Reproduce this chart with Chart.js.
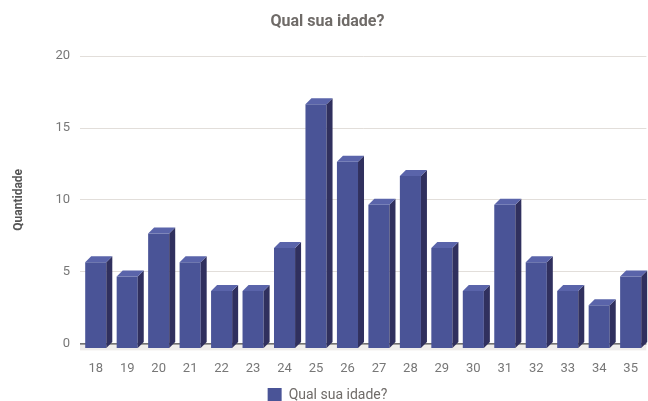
<!DOCTYPE html>
<html>
<head>
<meta charset="utf-8">
<script src="https://cdn.jsdelivr.net/npm/chart.js@4.4.0/dist/chart.umd.min.js"></script>
<style>
  html, body { margin: 0; padding: 0; background: #fff; }
  #wrap { width: 648px; height: 401px; }
</style>
</head>
<body>
<div id="wrap"><canvas id="chart"></canvas></div>
<script>
// Qual sua idade? - respostas por idade
const idades = ['18', '19', '20', '21', '22', '23', '24', '25', '26', '27', '28', '29', '30', '31', '32', '33', '34', '35'];
const quantidades = [6, 5, 8, 6, 4, 4, 7, 17, 13, 10, 12, 7, 4, 10, 6, 4, 3, 5];
const yTicks = [0, 5, 10, 15, 20];

const FRONT = '#4a5497';
const SIDE = '#30305e';
const TOP = '#5a64aa';
const DEPTH = 6;
const DROP = 5;

// desenha o chao, a lateral e o topo de cada barra (efeito 3D)
const bars3d = {
  id: 'bars3d',
  beforeDatasetsDraw(chart) {
    const { ctx, chartArea, scales } = chart;
    const y0 = scales.y.getPixelForValue(0);
    ctx.save();
    ctx.fillStyle = '#efedeb';
    ctx.fillRect(chartArea.left, y0, chartArea.right - chartArea.left, DROP + 2);
    ctx.strokeStyle = '#222';
    ctx.lineWidth = 1;
    ctx.beginPath();
    ctx.moveTo(chartArea.left, y0 + 0.5);
    ctx.lineTo(chartArea.right, y0 + 0.5);
    ctx.stroke();
    ctx.restore();
    ctx.save();
    ctx.translate(0, DROP);
  },
  afterDatasetsDraw(chart) {
    const { ctx } = chart;
    const meta = chart.getDatasetMeta(0);
    meta.data.forEach(bar => {
      const l = bar.x - bar.width / 2;
      const r = bar.x + bar.width / 2;
      const t = bar.y;
      const b = bar.base;
      ctx.fillStyle = SIDE;
      ctx.beginPath();
      ctx.moveTo(r, t);
      ctx.lineTo(r + DEPTH, t - DEPTH);
      ctx.lineTo(r + DEPTH, b - DEPTH);
      ctx.lineTo(r, b);
      ctx.closePath();
      ctx.fill();
      ctx.fillStyle = TOP;
      ctx.beginPath();
      ctx.moveTo(l, t);
      ctx.lineTo(l + DEPTH, t - DEPTH);
      ctx.lineTo(r + DEPTH, t - DEPTH);
      ctx.lineTo(r, t);
      ctx.closePath();
      ctx.fill();
    });
    ctx.restore();
  }
};

new Chart(document.getElementById('chart'), {
  type: 'bar',
  data: {
    labels: idades,
    datasets: [{
      label: 'Qual sua idade?',
      data: quantidades,
      backgroundColor: FRONT,
      borderWidth: 0,
      barPercentage: 0.67,
      categoryPercentage: 1
    }]
  },
  options: {
    responsive: true,
    maintainAspectRatio: false,
    animation: false,
    layout: { padding: { left: 8, right: 1, top: 0, bottom: -11 } },
    plugins: {
      title: {
        display: true,
        text: 'Qual sua idade?',
        color: '#6f6b68',
        font: { family: 'Roboto', size: 16, weight: 'bold' },
        padding: { top: 12, bottom: 25 }
      },
      legend: {
        position: 'bottom',
        labels: {
          color: '#6f6b68',
          font: { family: 'Roboto', size: 14 },
          boxWidth: 14,
          boxHeight: 14,
          padding: 1
        }
      },
      tooltip: { enabled: false }
    },
    scales: {
      x: {
        grid: { display: false },
        border: { display: false },
        ticks: { color: '#777', font: { family: 'Roboto', size: 13 }, padding: 10 }
      },
      y: {
        min: 0,
        max: 20,
        afterBuildTicks: axis => { axis.ticks = yTicks.map(v => ({ value: v })); },
        grid: { color: ctx => ctx.tick && ctx.tick.value === 0 ? 'rgba(0,0,0,0)' : '#e2deda', drawTicks: false },
        border: { display: false },
        ticks: { color: '#777', font: { family: 'Roboto', size: 13 }, padding: 10 },
        title: {
          display: true,
          text: 'Quantidade',
          color: '#555',
          font: { family: 'Roboto', size: 12, weight: 'bold' },
          padding: { bottom: 19 }
        }
      }
    }
  },
  plugins: [bars3d]
});
</script>
</body>
</html>
